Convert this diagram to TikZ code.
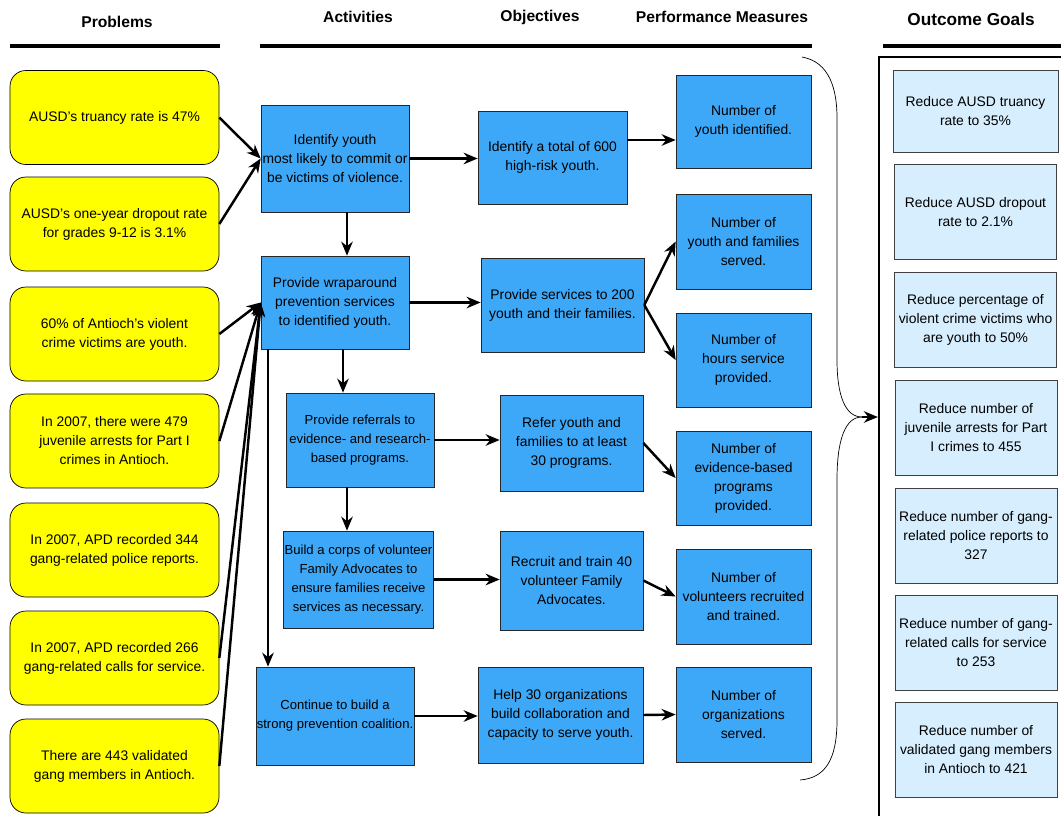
\documentclass[tikz,border=0pt]{standalone}
\usepackage{fontspec}
\setmainfont{Liberation Sans}
\usepackage{tikz}
\usetikzlibrary{positioning,calc}
\usetikzlibrary{arrows.meta}
\definecolor{ProbYellow}{RGB}{255,255,0}
\definecolor{ActBlue}{RGB}{62,168,248}
\definecolor{GoalBlue}{RGB}{214,238,253}
\tikzset{
  prob/.style={draw=black,fill=ProbYellow,rounded corners=9pt,align=center,
    minimum width=4.18cm,minimum height=1.88cm,inner sep=2pt},
  act/.style={draw=black!85,fill=ActBlue,align=center,inner sep=0.5pt},
  goal/.style={draw=black!75,fill=GoalBlue,align=center,inner sep=0.5pt,
    minimum width=3.24cm,minimum height=1.9cm},
  head/.style={font=\bfseries\fontsize{8.9}{10}\selectfont},
  rule/.style={line width=2.3pt},
  arr/.style={line width=1.4pt,-{Stealth[length=2.8mm,width=2.3mm]}},
  tight/.style={font=\fontsize{7.45}{10.8}\selectfont},
}

\begin{document}
\begin{tikzpicture}[x=0.02cm,y=-0.02cm,font=\fontsize{7.9}{10.8}\selectfont]
\clip (0,0) rectangle (1061,815);
\fill[white] (0,0) rectangle (1061,815);

% headers
\node[head] (hprob) at (117,22) {Problems};
\node[head] (hact) at (358,17) {Activities};
\node[head] (hobj) at (540,17) {Objectives};
\node[head] (hperf) at (722,17) {Performance Measures};
\node[head,font=\bfseries\fontsize{9.8}{11}\selectfont] (hgoal) at (971,19) {Outcome Goals};
\draw[rule] (10,46) -- (220,46);
\draw[rule] (260,46) -- (812,46);
\draw[rule] (883,46) -- (1061,46);

% problems
\node[prob] (p1) at (114.5,117.5) {AUSD’s truancy rate is 47\%};
\node[prob] (p2) at (114.5,224) {AUSD’s one-year dropout rate\\for grades 9-12 is 3.1\%};
\node[prob] (p3) at (114.5,334) {60\% of Antioch’s violent\\crime victims are youth.};
\node[prob] (p4) at (114.5,441) {In 2007, there were 479\\juvenile arrests for Part I\\crimes in Antioch.};
\node[prob] (p5) at (114.5,550) {In 2007, APD recorded 344\\gang-related police reports.};
\node[prob] (p6) at (114.5,658) {In 2007, APD recorded 266\\gang-related calls for service.};
\node[prob] (p7) at (114.5,766) {There are 443 validated\\gang members in Antioch.};

% activities
\node[act,minimum width=2.96cm,minimum height=2.14cm] (a1) at (335,158.5)
  {Identify youth\\most likely to commit or\\be victims of violence.};
\node[act,minimum width=2.96cm,minimum height=1.86cm] (a2) at (335,302.5)
  {Provide wraparound\\prevention services\\to identified youth.};
\node[act,tight,minimum width=2.96cm,minimum height=1.88cm] (a3) at (360,440)
  {Provide referrals to\\evidence- and research-\\based programs.};
\node[act,tight,minimum width=2.98cm,minimum height=1.94cm] (a4) at (358.5,579.5)
  {Build a corps of volunteer\\Family Advocates to\\ensure families receive\\services as necessary.};
\node[act,tight,minimum width=2.96cm,minimum height=1.96cm] (a5) at (335,716)
  {Continue to build a\\strong prevention coalition.};

% objectives
\node[act,minimum width=2.98cm,minimum height=1.86cm] (o1) at (552.5,157.5)
  {Identify a total of 600\\high-risk youth.};
\node[act,minimum width=3.26cm,minimum height=1.88cm] (o2) at (562.5,305)
  {Provide services to 200\\youth and their families.};
\node[act,minimum width=2.86cm,minimum height=1.92cm] (o3) at (571.5,443)
  {Refer youth and\\families to at least\\30 programs.};
\node[act,minimum width=2.86cm,minimum height=1.98cm] (o4) at (571.5,580.5)
  {Recruit and train 40\\volunteer Family\\Advocates.};
\node[act,minimum width=3.3cm,minimum height=1.92cm] (o5) at (560.5,715)
  {Help 30 organizations\\build collaboration and\\capacity to serve youth.};

% performance measures
\node[act,minimum width=2.7cm,minimum height=1.86cm] (m1) at (743.5,121.5)
  {Number of\\youth identified.};
\node[act,minimum width=2.7cm,minimum height=1.9cm] (m2) at (743.5,241.5)
  {Number of\\youth and families\\served.};
\node[act,minimum width=2.7cm,minimum height=1.88cm] (m3) at (743.5,360)
  {Number of\\hours service\\provided.};
\node[act,minimum width=2.7cm,minimum height=1.88cm] (m4) at (743.5,478)
  {Number of\\evidence-based\\programs\\provided.};
\node[act,minimum width=2.7cm,minimum height=1.9cm] (m5) at (743.5,596.5)
  {Number of\\volunteers recruited\\and trained.};
\node[act,minimum width=2.7cm,minimum height=1.9cm] (m6) at (743.5,714.5)
  {Number of\\organizations\\served.};

% outcome goals
\node[draw=black,line width=1.3pt,minimum width=3.8cm,minimum height=15.6cm] (frame) at (974,447) {};
\node[goal,minimum height=1.64cm,minimum width=3.3cm] (g1) at (975.5,111) {Reduce AUSD truancy\\rate to 35\%};
\node[goal] (g2) at (975.5,212) {Reduce AUSD dropout\\rate to 2.1\%};
\node[goal] (g3) at (975.5,319.5) {Reduce percentage of\\violent crime victims who\\are youth to 50\%};
\node[goal] (g4) at (976,428) {Reduce number of\\juvenile arrests for Part\\I crimes to 455};
\node[goal] (g5) at (976,535.5) {Reduce number of gang-\\related police reports to\\327};
\node[goal] (g6) at (976,642.5) {Reduce number of gang-\\related calls for service\\to 253};
\node[goal] (g7) at (976,749.5) {Reduce number of\\validated gang members\\in Antioch to 421};

% problems to activities
\draw[arr] (p1.east) -- (a1.west);
\draw[arr] (p2.east) -- (a1.west);
\draw[arr] (p3.east) -- (a2.west);
\draw[arr] (p4.east) -- (a2.west);
\draw[arr] (p6.east) -- (a2.west);
\draw[arr] (p7.east) -- (a2.west);

% activity chain
\draw[arr] ([xshift=0.24cm]a1.south) -- ([xshift=0.24cm]a1.south |- a2.north);
\draw[arr] ([xshift=0.16cm]a2.south) -- ([xshift=0.16cm]a2.south |- a3.north);
\draw[arr] ([xshift=-0.26cm]a3.south) -- ([xshift=-0.26cm]a3.south |- a4.north);
\draw[arr] ([xshift=-1.34cm]a2.south) -- ([xshift=-1.34cm]a2.south |- a5.north);

% activities to objectives
\draw[arr] (a1.east) -- (a1.east -| o1.west);
\draw[arr] (a2.east) -- (a2.east -| o2.west);
\draw[arr] (a3.east) -- (a3.east -| o3.west);
\draw[arr] (a4.east) -- (a4.east -| o4.west);
\draw[arr] (a5.east) -- (a5.east -| o5.west);

% objectives to measures
\draw[arr] ([yshift=0.35cm]o1.east) -- ([yshift=0.35cm]o1.east -| m1.west);
\draw[arr] (o2.east) -- (m2.west);
\draw[arr] (o2.east) -- (m3.west);
\draw[arr] (o3.east) -- (m4.west);
\draw[arr] (o4.east) -- (m5.west);
\draw[arr] (o5.east) -- (m6.west);

% brace
\coordinate (tip) at (862,417);
\draw[thin] (802,57) .. controls (830,62) and (837,90) .. (837,118) -- (837,360)
  .. controls (837,395) and (845,417) .. (tip);
\draw[thin] (tip) .. controls (845,417) and (837,440) .. (837,480) -- (837,720)
  .. controls (837,760) and (825,778) .. (800,780);
\draw[arr] (tip) -- (tip -| frame.west);
\end{tikzpicture}
\end{document}
